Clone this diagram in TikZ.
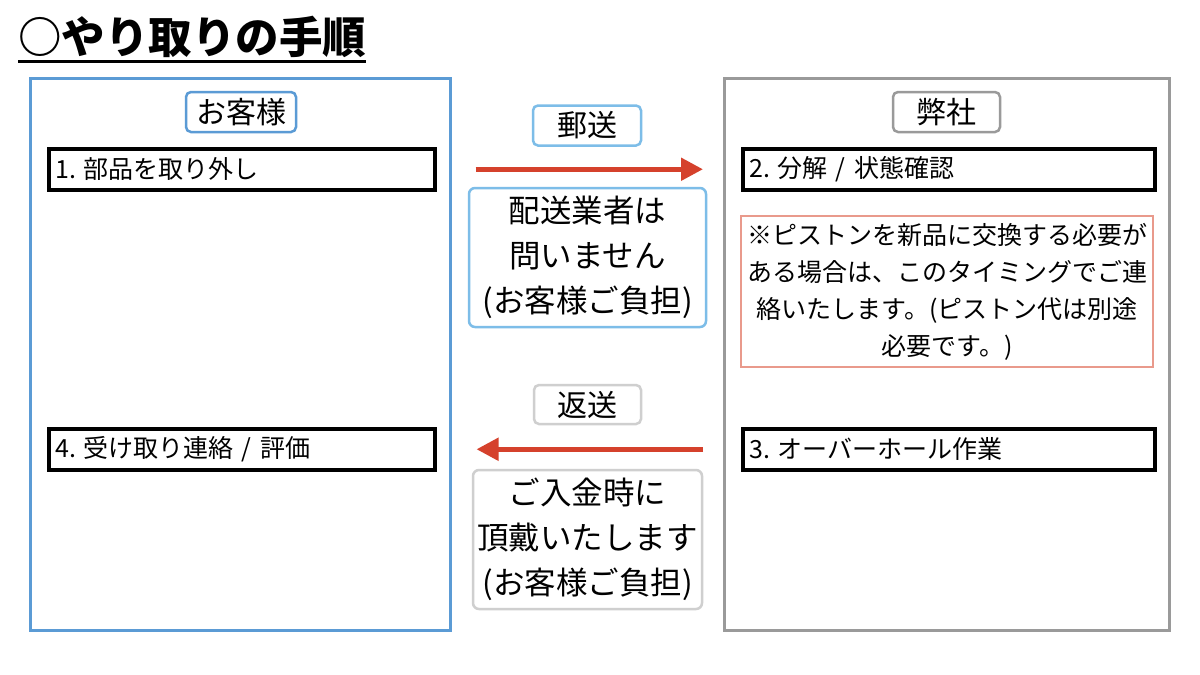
\documentclass[tikz,border=0pt]{standalone}
\usepackage{fontspec}
\newfontfamily\jpfont{Noto Sans CJK JP}
\usetikzlibrary{arrows.meta}
\definecolor{custblue}{HTML}{5B9BD5}
\definecolor{tagblue}{HTML}{7DBDE8}
\definecolor{shopgray}{HTML}{9A9A9A}
\definecolor{lightgray}{HTML}{CFCFCF}
\definecolor{notered}{HTML}{E99A8C}
\definecolor{arrowred}{HTML}{D5412C}
\begin{document}
\begin{tikzpicture}[x=1pt,y=-1pt,
  every node/.style={font=\jpfont},
  panel/.style={line width=3pt},
  stepbox/.style={draw, line width=3.5pt, anchor=north west, minimum height=41pt,
    text width=372pt, inner xsep=7pt, align=left, font=\jpfont\fontsize{25}{28}\selectfont},
  tag/.style={draw, line width=2.5pt, rounded corners=5pt, minimum height=40pt,
    font=\jpfont\fontsize{30}{34}\selectfont},
  infobox/.style={draw, line width=2.5pt, rounded corners=6pt, align=center, inner xsep=2pt,
    font=\jpfont\fontsize{31.5}{45}\selectfont},
  shiparrow/.style={arrowred, line width=5pt, -{Triangle[length=22pt,width=22pt]}}]
\fill[white] (0,0) rectangle (1200,675);
% title
\node[anchor=base west, inner sep=0pt, font=\jpfont\bfseries\fontsize{43.5}{44}\selectfont] (title) at (18,53) {○やり取りの手順};
\draw[line width=3pt] ([yshift=-8pt]title.base west) -- ([yshift=-8pt]title.base east);
% customer side
\draw[panel, custblue] (30,78) rectangle (450,630);
\node[tag, draw=custblue, minimum width=110pt] (kyaku) at (241,112) {お客様};
\node[stepbox] (step1) at (47,147) {1.\kern7pt 部品を取り外し};
\node[stepbox] (step4) at (47,427) {4.\kern7pt 受け取り連絡 / 評価};
% shop side
\draw[panel, shopgray] (724,78) rectangle (1169,630);
\node[tag, draw=shopgray, minimum width=107pt] (heisha) at (946.5,112) {弊社};
\node[stepbox, text width=398pt] (step2) at (741,147) {2.\kern7pt 分解 / 状態確認};
\node[draw=notered, line width=2.5pt, minimum width=412pt, minimum height=151pt, align=center,
  font=\jpfont\fontsize{25}{37}\selectfont] (note) at (947,291.5)
  {※ピストンを新品に交換する必要が\\ある場合は、このタイミングでご連\\絡いたします。(ピストン代は別途\\必要です。)};
\node[stepbox, text width=398pt] (step3) at (741,427) {3.\kern7pt オーバーホール作業};
% middle
\node[tag, draw=tagblue, minimum width=108pt] (yuso) at (587,125.5) {郵送};
\draw[shiparrow] ([xshift=39pt]step1.east) -- ([xshift=-38pt]step2.west);
\node[infobox, draw=tagblue, minimum width=237pt, minimum height=139pt] (haiso) at (587.5,257.5)
  {配送業者は\\問いません\\(お客様ご負担)};
\node[tag, draw=lightgray, minimum width=107pt, minimum height=39pt] (henso) at (587.5,404.5) {返送};
\draw[shiparrow] ([xshift=-38pt]step3.west) -- ([xshift=40pt]step4.east);
\node[infobox, draw=lightgray, minimum width=229pt, minimum height=139pt] (nyukin) at (587.5,539.5)
  {ご入金時に\\頂戴いたします\\(お客様ご負担)};
\end{tikzpicture}
\end{document}
